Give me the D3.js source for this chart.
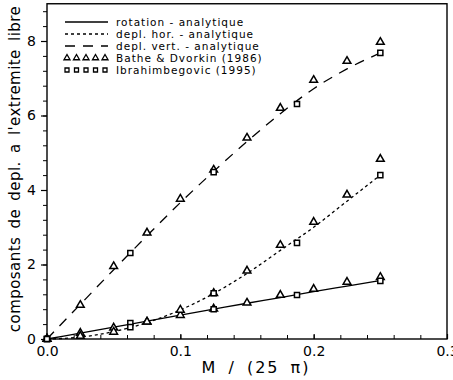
<!DOCTYPE html>
<html>
<head>
<meta charset="utf-8">
<script src="https://cdn.jsdelivr.net/npm/d3@7"></script>
<style>
  body { margin: 0; background: #fff; }
  svg text { font-family: "DejaVu Sans", sans-serif; fill: #000; }
</style>
</head>
<body>
<div id="chart"></div>
<script>
// x values (M / 25 pi)
var xAnalytic = [0, 0.025, 0.05, 0.075, 0.1, 0.125, 0.15, 0.175, 0.2, 0.225, 0.25];
var rotAnalytic = [0, 0.16, 0.32, 0.48, 0.64, 0.80, 0.96, 1.11, 1.27, 1.42, 1.57];
var horAnalytic = [0, 0.05, 0.2, 0.44, 0.78, 1.22, 1.76, 2.38, 3.0, 3.7, 4.4];
var vertAnalytic = [0, 0.93, 1.86, 2.77, 3.66, 4.5, 5.3, 6.05, 6.72, 7.25, 7.68];

var xBathe = [0, 0.025, 0.05, 0.075, 0.1, 0.125, 0.15, 0.175, 0.2, 0.225, 0.25];
var rotBathe = [0, 0.16, 0.30, 0.46, 0.64, 0.81, 0.97, 1.18, 1.34, 1.53, 1.66];
var horBathe = [0, 0.08, 0.19, 0.46, 0.78, 1.23, 1.83, 2.52, 3.14, 3.87, 4.83];
var vertBathe = [0, 0.91, 1.95, 2.85, 3.76, 4.54, 5.40, 6.2, 6.95, 7.46, 7.97];

var xIbra = [0, 0.0625, 0.125, 0.1875, 0.25];
var rotIbra = [0, 0.43, 0.80, 1.18, 1.56];
var horIbra = [0, 0.32, 1.23, 2.58, 4.40];
var vertIbra = [0, 2.31, 4.48, 6.31, 7.68];

var xTicks = [0, 0.1, 0.2, 0.3];
var yTicks = [0, 2, 4, 6, 8];
var legendLabels = ["rotation - analytique", "depl. hor. - analytique", "depl. vert. - analytique",
                    "Bathe & Dvorkin (1986)", "Ibrahimbegovic (1995)"];

var width = 453, height = 380;
var svg = d3.select("#chart").append("svg").attr("width", width).attr("height", height);

var x = d3.scaleLinear().domain([0, 0.3]).range([47, 447]);
var y = d3.scaleLinear().domain([0, 9]).range([339, 3.75]);

// frame
svg.append("rect").attr("x", x(0)).attr("y", y(9)).attr("width", x(0.3) - x(0)).attr("height", y(0) - y(9))
  .attr("fill", "none").attr("stroke", "#000").attr("stroke-width", 1.4);

// y axis, ticks outward
var yAxis = d3.axisLeft(y).tickValues(yTicks).tickFormat(d3.format("d")).tickSize(6).tickPadding(5);
var gy = svg.append("g").attr("transform", "translate(" + x(0) + ",0)").call(yAxis);
gy.select(".domain").remove();
gy.selectAll("text").style("font-size", "14px");
gy.selectAll(".tick line").attr("stroke-width", 1.2);
var gyMinor = svg.append("g").attr("transform", "translate(" + x(0) + ",0)")
  .call(d3.axisLeft(y).tickValues(d3.range(0, 9.01, 0.4)).tickFormat("").tickSize(4));
gyMinor.select(".domain").remove();
gyMinor.selectAll(".tick line").attr("stroke-width", 1);

// x axis, ticks inward
var xAxis = d3.axisBottom(x).tickValues(xTicks).tickFormat(d3.format(".1f")).tickSize(-5).tickPadding(7);
var gx = svg.append("g").attr("transform", "translate(0," + y(0) + ")").call(xAxis);
gx.select(".domain").remove();
gx.selectAll("text").style("font-size", "14px");
gx.selectAll(".tick line").attr("stroke-width", 1.2);
var gxMinor = svg.append("g").attr("transform", "translate(0," + y(0) + ")")
  .call(d3.axisBottom(x).tickValues(d3.range(0, 0.301, 0.02)).tickFormat("").tickSize(-4));
gxMinor.select(".domain").remove();

// axis titles
svg.append("text").attr("x", 256).attr("y", 373).attr("text-anchor", "middle")
  .style("font-size", "16px").style("letter-spacing", "2px").style("word-spacing", "4px")
  .text("M / (25 \u03c0)");
svg.append("text").attr("transform", "translate(20,169) rotate(-90)").attr("text-anchor", "middle")
  .style("font-size", "15px").style("letter-spacing", "0.45px").style("word-spacing", "3px")
  .text("composants de depl. a l'extremite libre");

// analytic curves
var line = d3.line().x(function(d) { return x(d[0]); }).y(function(d) { return y(d[1]); }).curve(d3.curveMonotoneX);
var curves = [
  { vals: rotAnalytic, dash: null },
  { vals: horAnalytic, dash: "3,3" },
  { vals: vertAnalytic, dash: "10,8" }
];
curves.forEach(function(c) {
  svg.append("path").datum(d3.zip(xAnalytic, c.vals)).attr("d", line)
    .attr("fill", "none").attr("stroke", "#000").attr("stroke-width", 1.3)
    .attr("stroke-dasharray", c.dash);
});

// markers
var tri = d3.symbol().type(d3.symbolTriangle).size(26);
var sq = d3.symbol().type(d3.symbolSquare).size(26);
[rotBathe, horBathe, vertBathe].forEach(function(vals) {
  svg.append("g").selectAll("path").data(d3.zip(xBathe, vals)).enter().append("path")
    .attr("d", tri).attr("transform", function(d) { return "translate(" + x(d[0]) + "," + y(d[1]) + ")"; })
    .attr("fill", "#fff").attr("stroke", "#000").attr("stroke-width", 1.5);
});
[rotIbra, horIbra, vertIbra].forEach(function(vals) {
  svg.append("g").selectAll("path").data(d3.zip(xIbra, vals)).enter().append("path")
    .attr("d", sq).attr("transform", function(d) { return "translate(" + x(d[0]) + "," + y(d[1]) + ")"; })
    .attr("fill", "#fff").attr("stroke", "#000").attr("stroke-width", 1.5);
});

// legend
var leg = svg.append("g");
var rowsY = [22, 34, 46, 58, 70];
legendLabels.forEach(function(lab, i) {
  var ly = rowsY[i];
  if (i < 3) {
    leg.append("line").attr("x1", 65).attr("x2", 108).attr("y1", ly).attr("y2", ly)
      .attr("stroke", "#000").attr("stroke-width", 1.3).attr("stroke-dasharray", curves[i].dash);
  } else {
    d3.range(5).forEach(function(k) {
      leg.append("path").attr("d", i === 3 ? tri.size(16) : sq.size(16))
        .attr("transform", "translate(" + (67 + k * 9.5) + "," + ly + ")")
        .attr("fill", "#fff").attr("stroke", "#000").attr("stroke-width", 1.3);
    });
  }
  leg.append("text").attr("x", 116).attr("y", ly).attr("dy", "0.35em")
    .style("font-size", "10.5px").style("letter-spacing", "1px").text(lab);
});
</script>
</body>
</html>
